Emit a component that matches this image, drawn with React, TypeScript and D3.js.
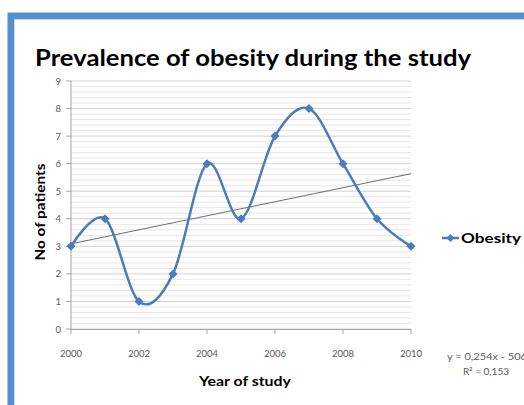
import React from "react";
import * as d3 from "d3";

const years = [2000, 2001, 2002, 2003, 2004, 2005, 2006, 2007, 2008, 2009, 2010];
const obesity = [3, 4, 1, 2, 6, 4, 7, 8, 6, 4, 3];
const xTicks = [2000, 2002, 2004, 2006, 2008, 2010];
const yTicks = [0, 1, 2, 3, 4, 5, 6, 7, 8, 9];
const title = "Prevalence of obesity during the study";
const seriesName = "Obesity";
const trendEq = "y = 0,254x - 506";
const trendR2 = "R² = 0,153";

const BLUE = "#4a7ebb";
const FONT = "Lato, 'Open Sans', sans-serif";

function diamond(cx: number, cy: number, r: number) {
  return `M${cx},${cy - r}L${cx + r},${cy}L${cx},${cy + r}L${cx - r},${cy}Z`;
}

export default function App() {
  const x = d3.scaleLinear().domain([2000, 2010]).range([71, 411]);
  const y = d3.scaleLinear().domain([0, 9]).range([329, 81]);

  const line = d3
    .line<number>()
    .x((_, i) => x(years[i]))
    .y((d) => y(d))
    .curve(d3.curveCardinal.tension(0));

  // linear regression for trendline
  const mx = d3.mean(years)!;
  const my = d3.mean(obesity)!;
  const sxy = d3.sum(years, (v, i) => (v - mx) * (obesity[i] - my));
  const sxx = d3.sum(years, (v) => (v - mx) * (v - mx));
  const slope = sxy / sxx;
  const icpt = my - slope * mx;

  const minor = d3.range(0, 9.0001, 0.2).filter((v) => Math.abs(v - Math.round(v)) > 1e-6);

  return (
    <svg
      width={524}
      height={405}
      style={{ position: "absolute", left: 0, top: 0, background: "#fff" }}
    >
      <rect x={0} y={0} width={524} height={405} fill="#fff" />
      {/* frame */}
      <rect x={11} y={16} width={530} height={400} fill="none" stroke="#558ed5" strokeWidth={7} />
      <rect x={14.5} y={19.5} width={520} height={400} fill="none" stroke="#c8d4e4" strokeWidth={1} />

      <text
        x={35}
        y={66}
        fontFamily={FONT}
        fontWeight="bold"
        fontSize={23}
        fill="#000"
        textLength={436}
        lengthAdjust="spacingAndGlyphs"
      >
        {title}
      </text>

      {/* gridlines */}
      {minor.map((v) => (
        <line key={"m" + v} x1={x(2000)} x2={x(2010)} y1={y(v)} y2={y(v)} stroke="#ebe3ea" strokeWidth={1} />
      ))}
      {yTicks.map((v) => (
        <line key={"g" + v} x1={x(2000)} x2={x(2010)} y1={y(v)} y2={y(v)} stroke="#d4cfd4" strokeWidth={1} />
      ))}

      {/* axes */}
      <line x1={x(2000)} x2={x(2000)} y1={y(9)} y2={y(0)} stroke="#a6a6a6" />
      <line x1={x(2000)} x2={x(2010)} y1={y(0) + 0.5} y2={y(0) + 0.5} stroke="#a6a6a6" />
      {yTicks.map((v) => (
        <line key={"yt" + v} x1={x(2000) - 5} x2={x(2000)} y1={y(v)} y2={y(v)} stroke="#a6a6a6" />
      ))}
      {xTicks.map((v) => (
        <line key={"xt" + v} x1={x(v)} x2={x(v)} y1={y(0)} y2={y(0) + 5} stroke="#a6a6a6" />
      ))}
      {yTicks.map((v) => (
        <text key={"yl" + v} x={61} y={y(v) + 3.5} textAnchor="end" fontFamily={FONT} fontSize={9.5} fill="#595959">
          {v}
        </text>
      ))}
      {xTicks.map((v) => (
        <text key={"xl" + v} x={x(v)} y={357} textAnchor="middle" fontFamily={FONT} fontSize={9.5} fill="#595959">
          {v}
        </text>
      ))}

      {/* trendline */}
      <line
        x1={x(2000)}
        x2={x(2010)}
        y1={y(slope * 2000 + icpt)}
        y2={y(slope * 2010 + icpt)}
        stroke="#6e6e6e"
        strokeWidth={1}
      />

      {/* series */}
      <path d={line(obesity) || ""} fill="none" stroke={BLUE} strokeWidth={2.5} />
      {obesity.map((v, i) => (
        <path key={"d" + i} d={diamond(x(years[i]), y(v), 4.5)} fill={BLUE} />
      ))}

      {/* axis titles */}
      <text
        transform={`translate(45,212) rotate(-90)`}
        textAnchor="middle"
        fontFamily={FONT}
        fontWeight="bold"
        fontSize={13.5}
        fill="#000"
        textLength={97}
        lengthAdjust="spacingAndGlyphs"
      >
        No of patients
      </text>
      <text
        x={245}
        y={386}
        textAnchor="middle"
        fontFamily={FONT}
        fontWeight="bold"
        fontSize={13.5}
        fill="#000"
        textLength={92}
        lengthAdjust="spacingAndGlyphs"
      >
        Year of study
      </text>

      {/* legend */}
      <line x1={442} x2={459} y1={238} y2={238} stroke={BLUE} strokeWidth={2.5} />
      <path d={diamond(450.5, 238, 4)} fill={BLUE} />
      <text
        x={461}
        y={242.5}
        fontFamily={FONT}
        fontWeight="bold"
        fontSize={13}
        fill="#000"
        textLength={60}
        lengthAdjust="spacingAndGlyphs"
      >
        {seriesName}
      </text>

      {/* trendline label */}
      <text
        x={447}
        y={360}
        fontFamily={FONT}
        fontSize={10}
        fill="#595959"
        textLength={80}
        lengthAdjust="spacingAndGlyphs"
      >
        {trendEq}
      </text>
      <text x={486} y={375} textAnchor="middle" fontFamily={FONT} fontSize={10} fill="#595959">
        {trendR2}
      </text>
    </svg>
  );
}
